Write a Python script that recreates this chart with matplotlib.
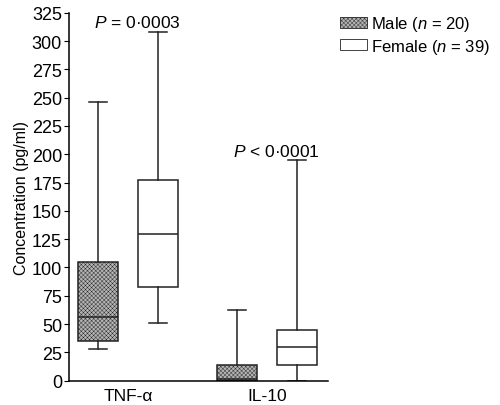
import matplotlib.pyplot as plt
import matplotlib.patches as mpatches

plt.rcParams['font.family'] = ['Liberation Sans', 'DejaVu Sans']
plt.rcParams['mathtext.fontset'] = 'custom'
plt.rcParams['mathtext.it'] = 'Liberation Sans:italic'
plt.rcParams['mathtext.rm'] = 'Liberation Sans'
plt.rcParams['hatch.linewidth'] = 0.3

# data
cytokines = ['TNF-α', 'IL-10']
groups = ['Male ($\\it{n}$ = 20)', 'Female ($\\it{n}$ = 39)']
# whislo, q1, median, q3, whishi
male = [(28, 35, 56, 105, 246), (0, 0, 1.5, 14, 62)]
female = [(51, 83, 130, 177, 308), (0, 13.5, 29.5, 45, 195)]
p_text = ['$\\it{P}$ = 0·0003', '$\\it{P}$ < 0·0001']
p_y = [317, 203]

fig = plt.figure(figsize=(5, 4.06), dpi=100)
ax = fig.add_axes([0.138, 0.06, 0.518, 0.906])

def stats(vals):
    lo, q1, med, q3, hi = vals
    return dict(whislo=lo, q1=q1, med=med, q3=q3, whishi=hi, fliers=[])

off = 0.216
w = 0.288
male_pos = [1 - off, 2 - off]
female_pos = [1 + off, 2 + off]
ec = '#222222'
line = dict(color=ec, lw=1.1)

ax.bxp([stats(v) for v in male], positions=male_pos, widths=w,
       patch_artist=True, showfliers=False,
       boxprops=dict(facecolor='#b4b4b4', edgecolor=ec, hatch='xxxxxxxx', lw=1.1),
       medianprops=line, whiskerprops=line, capprops=line, capwidths=w * 0.45)
ax.bxp([stats(v) for v in female], positions=female_pos, widths=w,
       patch_artist=True, showfliers=False,
       boxprops=dict(facecolor='white', edgecolor=ec, lw=1.1),
       medianprops=line, whiskerprops=line, capprops=line, capwidths=w * 0.45)

for i, t in enumerate(p_text):
    ax.text(female_pos[i] - 0.15, p_y[i], t, ha='center', va='center', fontsize=12.5)

ax.set_xlim(0.576, 2.439)
ax.set_ylim(0, 325)
ax.set_yticks(range(0, 326, 25))
ax.set_xticks([1, 2])
ax.set_xticklabels(cytokines)
ax.tick_params(axis='x', length=0, labelsize=12.5, pad=5)
ax.tick_params(axis='y', length=3.5, labelsize=13, pad=1.5)
ax.spines['top'].set_visible(False)
ax.spines['right'].set_visible(False)
for s in ax.spines.values():
    s.set_linewidth(1.1)
ax.set_ylabel('Concentration (pg/ml)', fontsize=11.5, labelpad=2)

handles = [mpatches.Patch(facecolor='#b4b4b4', edgecolor=ec, hatch='xxxxxxxx', lw=0.6),
           mpatches.Patch(facecolor='white', edgecolor=ec, lw=0.6)]
fig.legend(handles, groups, loc='upper left', bbox_to_anchor=(0.68, 0.962),
           frameon=False, fontsize=12, handlelength=1.6, handleheight=0.65,
           handletextpad=0.25, labelspacing=0.2, borderpad=0, borderaxespad=0)

fig.savefig('out.png', dpi=100)
